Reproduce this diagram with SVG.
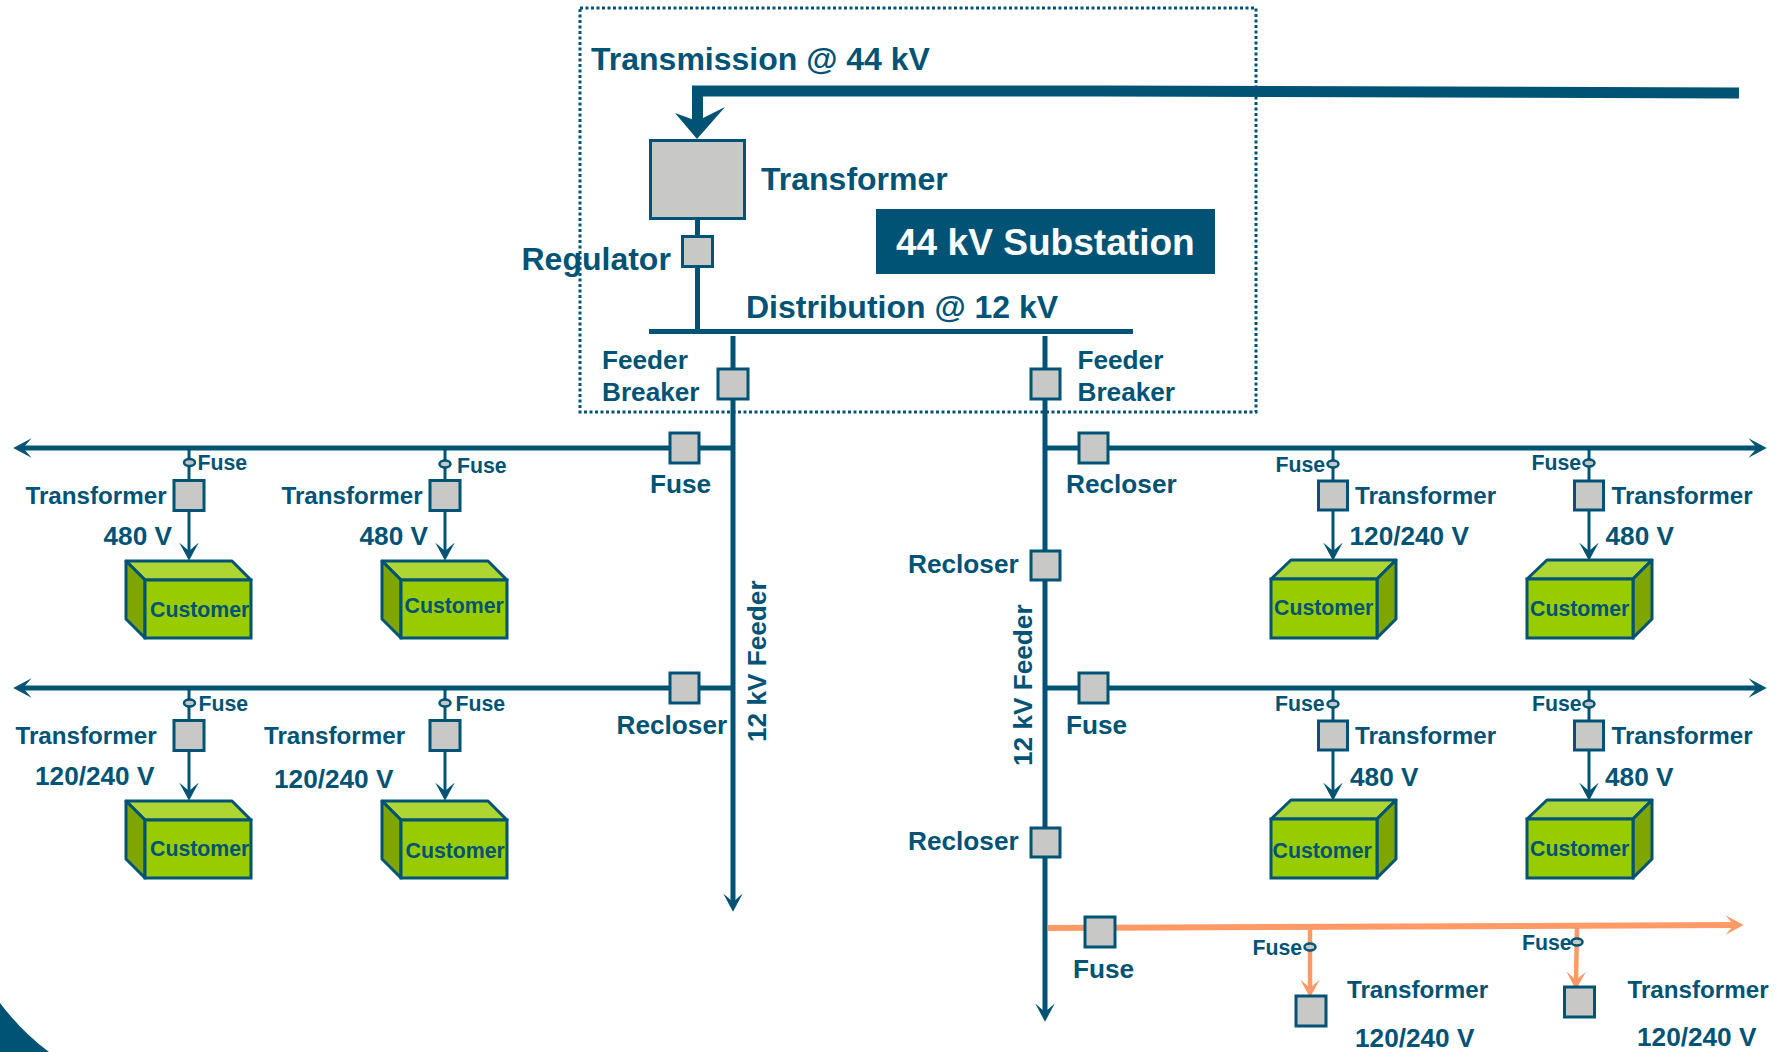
<svg xmlns="http://www.w3.org/2000/svg" width="1787" height="1052" viewBox="0 0 1787 1052">
<style>
text{font-family:"Liberation Sans",Arial,sans-serif;font-weight:700;fill:#005374}
.t32{font-size:32px}.t26{font-size:26.200px}.t24{font-size:24.200px}.t21{font-size:21.300px}
.w{fill:none;stroke:#005374}
.w5{stroke-width:5}.w3{stroke-width:3}
.o{fill:none;stroke:#FF9966}
.b{fill:#C8C8C6;stroke:#005374;stroke-width:3}
.f{fill:#C8C8C6;stroke:#005374;stroke-width:2.500}
.top{fill:#ADD633;stroke:#005374;stroke-width:3;stroke-linejoin:round}
.side{fill:#7FA600;stroke:#005374;stroke-width:3;stroke-linejoin:round}
.front{fill:#99CC00;stroke:#005374;stroke-width:3}
</style>
<defs>
<marker id="a" markerUnits="userSpaceOnUse" markerWidth="22" markerHeight="22" viewBox="0 -9 15 18" refX="7" refY="0" orient="auto"><path d="M0,-8 L15,0 L0,8 L7,0Z" fill="#005374"/></marker>
<marker id="ao" markerUnits="userSpaceOnUse" markerWidth="22" markerHeight="22" viewBox="0 -9 15 18" refX="7" refY="0" orient="auto"><path d="M0,-8 L15,0 L0,8 L7,0Z" fill="#FF9966"/></marker>
<g id="cubeL"><path class="top" d="M126 561H232L251 580H145Z"/><path class="side" d="M126 561L145 580V638L126 619Z"/><rect class="front" x="145" y="580" width="106" height="58"/></g>
<g id="cubeR"><path class="top" d="M1271 579L1291 560H1396L1377 579Z"/><path class="side" d="M1377 579L1396 560V619L1377 638Z"/><rect class="front" x="1271" y="579" width="106" height="59"/></g>
</defs>
<rect width="1787" height="1052" fill="#fff"/>
<path id="corner" d="M0 1003Q22 1032 49 1052H0Z" fill="#005374"/>
<rect id="substation-boundary" x="580" y="8" width="676" height="404" fill="none" stroke="#005374" stroke-width="3" stroke-dasharray="3 2.500"/>

<g id="connectors">
<path class="w" stroke-width="11" d="M1739 93 L1100 91 H697.500 V124"/>
<path d="M697 139L675 113L697 121L725 107Z" fill="#005374"/>
<path class="w w5" d="M697.500 218V331"/>
<path class="w w5" d="M649 331.500H1133"/>
<path class="w w5" d="M733 336V902" marker-end="url(#a)"/>
<path class="w w5" d="M1045 336V1012" marker-end="url(#a)"/>
<path class="w w5" d="M733 448H23" marker-end="url(#a)"/>
<path class="w w5" d="M733 688H23" marker-end="url(#a)"/>
<path class="w w5" d="M1045 448H1757" marker-end="url(#a)"/>
<path class="w w5" d="M1045 688H1757" marker-end="url(#a)"/>
<path class="w w3" d="M189 448V551" marker-end="url(#a)"/>
<path class="w w3" d="M445 448V551" marker-end="url(#a)"/>
<path class="w w3" d="M189 688V791" marker-end="url(#a)"/>
<path class="w w3" d="M445 688V791" marker-end="url(#a)"/>
<path class="w w3" d="M1333 448V551" marker-end="url(#a)"/>
<path class="w w3" d="M1589 448V551" marker-end="url(#a)"/>
<path class="w w3" d="M1333 688V791" marker-end="url(#a)"/>
<path class="w w3" d="M1589 688V791" marker-end="url(#a)"/>
<path class="o" stroke-width="6" d="M1048 928L1734 925" marker-end="url(#ao)"/>
<path class="o" stroke-width="4.500" d="M1310 928V988" marker-end="url(#ao)"/>
<path class="o" stroke-width="4.500" d="M1577 926L1576 980" marker-end="url(#ao)"/>
</g>

<g id="transmission-label"><text class="t32" x="591" y="70">Transmission @ 44 kV</text></g>
<g id="main-transformer"><rect class="b" x="650.500" y="140.500" width="94" height="78"/><text class="t32" x="761" y="190">Transformer</text></g>
<g id="substation-label"><rect x="876" y="209" width="339" height="65" fill="#005374"/><text x="896" y="255" font-size="37.100" style="fill:#fff">44 kV Substation</text></g>
<g id="regulator"><rect class="b" x="682.500" y="236.500" width="30" height="30"/><text class="t32" x="521.500" y="270">Regulator</text></g>
<g id="distribution-label"><text class="t32" x="746" y="318">Distribution @ 12 kV</text></g>
<g id="breaker-left"><rect class="b" x="718" y="369" width="30" height="30"/><text class="t26" x="602" y="369">Feeder</text><text class="t26" x="602" y="401">Breaker</text></g>
<g id="breaker-right"><rect class="b" x="1031" y="369" width="29" height="30"/><text class="t26" x="1077.500" y="369">Feeder</text><text class="t26" x="1077.500" y="401">Breaker</text></g>

<g id="fuse-left-1"><rect class="b" x="670" y="433" width="29" height="30"/><text class="t26" x="650" y="493">Fuse</text></g>
<g id="recloser-left-2"><rect class="b" x="670" y="673" width="29" height="30"/><text class="t26" x="616.500" y="733.500">Recloser</text></g>
<g id="recloser-right-1"><rect class="b" x="1079" y="433" width="29" height="30"/><text class="t26" x="1066" y="493">Recloser</text></g>
<g id="fuse-right-2"><rect class="b" x="1079" y="673" width="29" height="30"/><text class="t26" x="1066" y="733.500">Fuse</text></g>
<g id="recloser-main-1"><rect class="b" x="1031" y="551" width="29" height="29"/><text class="t26" x="908" y="573">Recloser</text></g>
<g id="recloser-main-2"><rect class="b" x="1031" y="828" width="29" height="29"/><text class="t26" x="908" y="850">Recloser</text></g>
<g id="feeder-label-left"><text class="t26" transform="translate(766 742) rotate(-90)">12 kV Feeder</text></g>
<g id="feeder-label-right"><text class="t26" transform="translate(1032 766) rotate(-90)">12 kV Feeder</text></g>

<g id="branch-l1a"><ellipse class="f" cx="189.500" cy="462.500" rx="5.500" ry="3.500"/><text class="t21" x="197.500" y="470">Fuse</text><rect class="b" x="174" y="480.500" width="30" height="30"/><text class="t24" x="25.500" y="504">Transformer</text><text class="t26" x="103.500" y="545">480 V</text><use href="#cubeL"/><text class="t21" x="150" y="617">Customer</text></g>
<g id="branch-l1b"><ellipse class="f" cx="445" cy="464" rx="5.500" ry="3.500"/><text class="t21" x="457" y="473">Fuse</text><rect class="b" x="430" y="480.500" width="30" height="30"/><text class="t24" x="281.500" y="504">Transformer</text><text class="t26" x="359.500" y="545">480 V</text><use href="#cubeL" x="256"/><text class="t21" x="404.500" y="613">Customer</text></g>
<g id="branch-l2a"><ellipse class="f" cx="189.500" cy="703" rx="5.500" ry="3.500"/><text class="t21" x="198.500" y="711">Fuse</text><rect class="b" x="174" y="720.500" width="30" height="30"/><text class="t24" x="15.500" y="744">Transformer</text><text class="t26" x="35" y="785">120/240 V</text><use href="#cubeL" y="240"/><text class="t21" x="150" y="856">Customer</text></g>
<g id="branch-l2b"><ellipse class="f" cx="445" cy="703" rx="5.500" ry="3.500"/><text class="t21" x="455.500" y="711">Fuse</text><rect class="b" x="430" y="720.500" width="30" height="30"/><text class="t24" x="264" y="744">Transformer</text><text class="t26" x="274" y="788">120/240 V</text><use href="#cubeL" x="256" y="240"/><text class="t21" x="405.500" y="858">Customer</text></g>

<g id="branch-r1a"><ellipse class="f" cx="1333" cy="464" rx="5.500" ry="3.500"/><text class="t21" x="1275.500" y="472">Fuse</text><rect class="b" x="1318.500" y="481" width="29" height="29"/><text class="t24" x="1355" y="504">Transformer</text><text class="t26" x="1349.500" y="545">120/240 V</text><use href="#cubeR"/><text class="t21" x="1274" y="615">Customer</text></g>
<g id="branch-r1b"><ellipse class="f" cx="1589" cy="463" rx="5.500" ry="3.500"/><text class="t21" x="1531.500" y="470">Fuse</text><rect class="b" x="1574.500" y="481" width="29" height="29"/><text class="t24" x="1611.500" y="504">Transformer</text><text class="t26" x="1605.500" y="545">480 V</text><use href="#cubeR" x="256"/><text class="t21" x="1530" y="616">Customer</text></g>
<g id="branch-r2a"><ellipse class="f" cx="1333" cy="704" rx="5.500" ry="3.500"/><text class="t21" x="1275" y="711">Fuse</text><rect class="b" x="1318.500" y="721" width="29" height="29"/><text class="t24" x="1355" y="744">Transformer</text><text class="t26" x="1350" y="786">480 V</text><use href="#cubeR" y="240"/><text class="t21" x="1272.500" y="858">Customer</text></g>
<g id="branch-r2b"><ellipse class="f" cx="1589" cy="704" rx="5.500" ry="3.500"/><text class="t21" x="1532" y="711">Fuse</text><rect class="b" x="1574.500" y="721" width="29" height="29"/><text class="t24" x="1611.500" y="744">Transformer</text><text class="t26" x="1605" y="786">480 V</text><use href="#cubeR" x="256" y="240"/><text class="t21" x="1530" y="856">Customer</text></g>

<g id="lateral-fuse"><rect class="b" x="1085" y="917" width="30" height="30"/><text class="t26" x="1073" y="978">Fuse</text></g>
<g id="lateral-a"><ellipse class="f" cx="1310" cy="947" rx="5.500" ry="3.500"/><text class="t21" x="1252.500" y="955">Fuse</text><rect class="b" x="1296" y="996" width="30" height="30"/><text class="t24" x="1347" y="998">Transformer</text><text class="t26" x="1355" y="1047">120/240 V</text></g>
<g id="lateral-b"><ellipse class="f" cx="1577" cy="942" rx="5.500" ry="3.500"/><text class="t21" x="1522" y="950">Fuse</text><rect class="b" x="1564.500" y="987" width="30" height="30"/><text class="t24" x="1627.500" y="998">Transformer</text><text class="t26" x="1637" y="1046">120/240 V</text></g>
</svg>
